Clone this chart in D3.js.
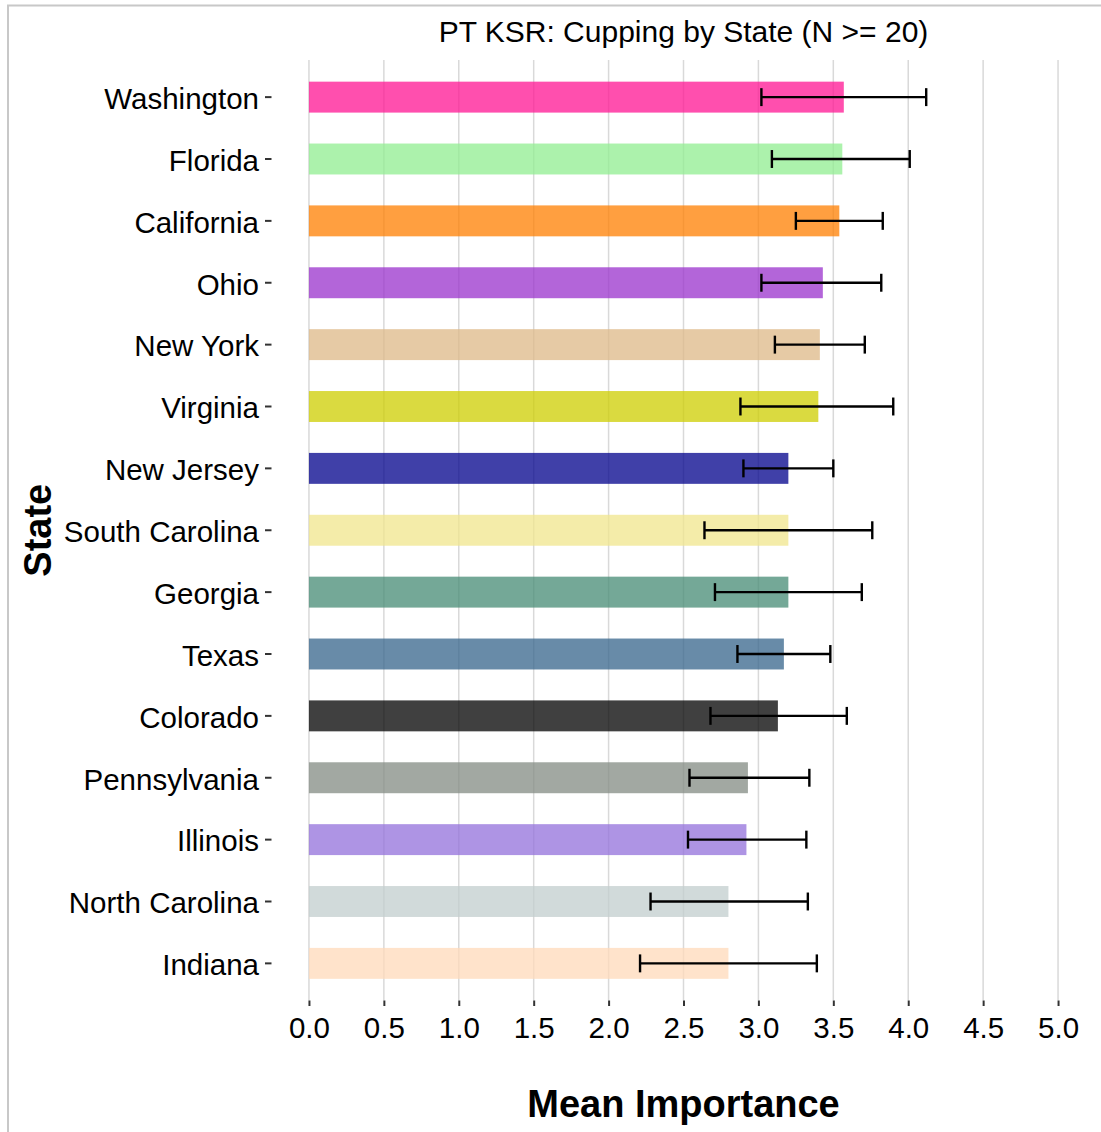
<!DOCTYPE html>
<html>
<head>
<meta charset="utf-8">
<script src="https://cdn.jsdelivr.net/npm/d3@7"></script>
<style>
  html, body { margin: 0; padding: 0; background: #fff; }
  svg { display: block; font-family: "Liberation Sans", Arial, sans-serif; }
</style>
</head>
<body>
<svg id="chart" width="1101" height="1132"></svg>
<script>
// ---- data ----
const states = ["Washington", "Florida", "California", "Ohio", "New York", "Virginia",
  "New Jersey", "South Carolina", "Georgia", "Texas", "Colorado", "Pennsylvania",
  "Illinois", "North Carolina", "Indiana"];
const means = [3.57, 3.56, 3.54, 3.43, 3.41, 3.40, 3.20, 3.20, 3.20, 3.17, 3.13, 2.93, 2.92, 2.80, 2.80];
const lower = [3.02, 3.09, 3.25, 3.02, 3.11, 2.88, 2.90, 2.64, 2.71, 2.86, 2.68, 2.54, 2.53, 2.28, 2.21];
const upper = [4.12, 4.01, 3.83, 3.82, 3.71, 3.90, 3.50, 3.76, 3.69, 3.48, 3.59, 3.34, 3.32, 3.33, 3.39];
const colors = ["#FF1493", "#90EE90", "#FF7F00", "#9932CC", "#DEB887", "#CDCD00",
  "#00008B", "#F0E68C", "#458B74", "#36648B", "#000000", "#838B83",
  "#9370DB", "#C1CDCD", "#FFDAB9"];
const xTicks = [0, 0.5, 1, 1.5, 2, 2.5, 3, 3.5, 4, 4.5, 5];
const titleText = "PT KSR: Cupping by State (N >= 20)";
const xTitle = "Mean Importance";
const yTitle = "State";

const rows = states.map((s, i) => ({ state: s, mean: means[i], lo: lower[i], hi: upper[i], color: colors[i] }));

// ---- layout ----
const panel = { left: 271.5, right: 1095.5, top: 60, bottom: 1000.5 };
const svg = d3.select("#chart");

// outer border
svg.append("rect")
  .attr("x", 8).attr("y", 5.5).attr("width", 1200).attr("height", 1200)
  .attr("fill", "none").attr("stroke", "#c8c8c8").attr("stroke-width", 2);

const x = d3.scaleLinear().domain([-0.25, 5.25]).range([panel.left, panel.right]);
const y = d3.scaleBand().domain(states).range([panel.top, panel.bottom])
  .paddingInner(0.5).paddingOuter(0.35);

// gridlines
svg.append("g").selectAll("line").data(xTicks).join("line")
  .attr("x1", d => x(d)).attr("x2", d => x(d))
  .attr("y1", panel.top).attr("y2", panel.bottom)
  .attr("stroke", "#d9d9d9").attr("stroke-width", 1.5);

// bars
svg.append("g").selectAll("rect").data(rows).join("rect")
  .attr("x", x(0))
  .attr("y", d => y(d.state))
  .attr("width", d => x(d.mean) - x(0))
  .attr("height", y.bandwidth())
  .attr("fill", d => d.color)
  .attr("fill-opacity", 0.75);

// error bars
const capHalf = y.step() * 0.145;
const eb = svg.append("g").attr("stroke", "#000").attr("stroke-width", 2.4).attr("fill", "none");
rows.forEach(d => {
  const cy = y(d.state) + y.bandwidth() / 2;
  eb.append("line").attr("x1", x(d.lo)).attr("x2", x(d.hi)).attr("y1", cy).attr("y2", cy);
  eb.append("line").attr("x1", x(d.lo)).attr("x2", x(d.lo)).attr("y1", cy - capHalf).attr("y2", cy + capHalf);
  eb.append("line").attr("x1", x(d.hi)).attr("x2", x(d.hi)).attr("y1", cy - capHalf).attr("y2", cy + capHalf);
});

// x axis
const gx = svg.append("g").attr("transform", `translate(0,${panel.bottom})`)
  .call(d3.axisBottom(x).tickValues(xTicks).tickFormat(d3.format(".1f")).tickSize(5.5).tickPadding(11.5));
gx.select(".domain").remove();
gx.selectAll(".tick line").attr("stroke", "#333").attr("stroke-width", 2);
gx.selectAll(".tick text").attr("fill", "#000").attr("font-size", 29.5)
  .attr("font-family", "Liberation Sans, Arial, sans-serif");

// y axis
const gy = svg.append("g").attr("transform", `translate(${panel.left},0)`)
  .call(d3.axisLeft(y).tickSize(6.5).tickPadding(6));
gy.select(".domain").remove();
gy.selectAll(".tick line").attr("stroke", "#333").attr("stroke-width", 2);
gy.selectAll(".tick text").attr("fill", "#000").attr("font-size", 29.5).attr("dy", "0.4em")
  .attr("font-family", "Liberation Sans, Arial, sans-serif");

// titles
svg.append("text").attr("x", (x(0) + x(5)) / 2).attr("y", 42)
  .attr("text-anchor", "middle").attr("font-size", 30).attr("fill", "#000")
  .text(titleText);

svg.append("text").attr("x", (x(0) + x(5)) / 2).attr("y", 1117)
  .attr("text-anchor", "middle").attr("font-size", 38).attr("font-weight", "bold").attr("fill", "#000")
  .text(xTitle);

svg.append("text").attr("transform", `translate(51,${(panel.top + panel.bottom) / 2}) rotate(-90)`)
  .attr("text-anchor", "middle").attr("font-size", 38).attr("font-weight", "bold").attr("fill", "#000")
  .text(yTitle);
</script>
</body>
</html>
